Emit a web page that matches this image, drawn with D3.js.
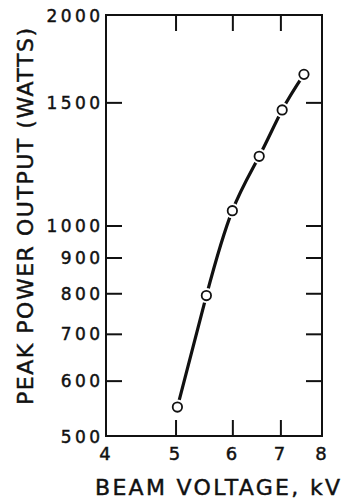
<!DOCTYPE html>
<html>
<head>
<meta charset="utf-8">
<script src="https://cdn.jsdelivr.net/npm/d3@7"></script>
<style>
  html, body { margin: 0; padding: 0; background: #fff; }
  svg { display: block; }
  text { font-family: "DejaVu Sans", sans-serif; fill: #111; stroke: #111; stroke-width: 0.45px; }
</style>
</head>
<body>
<svg id="chart" width="347" height="504"></svg>
<script>
// ---- data ----
const voltage = [5.03, 5.52, 6.0, 6.54, 7.04, 7.55];      // kV
const power   = [550, 794, 1050, 1256, 1463, 1645];        // watts
const xTickValues = [4, 5, 6, 7, 8];
const xTickLabels = ["4", "5", "6", "7", "8"];
const yTickValues = [500, 600, 700, 800, 900, 1000, 1500, 2000];
const yTickLabels = ["500", "600", "700", "800", "900", "1000", "1500", "2000"];
const xTitle = "BEAM VOLTAGE, kV";
const yTitle = "PEAK POWER OUTPUT (WATTS)";

// ---- layout ----
const L = 106, R = 322, T = 15, B = 436;
const svg = d3.select("#chart");
const x = d3.scaleLog().domain([4, 8]).range([L, R]);
const y = d3.scaleLog().domain([500, 2000]).range([B, T]);
const tickLen = 16;
const ink = "#111";

const innerX = xTickValues.filter(v => v > 4 && v < 8);
const innerY = yTickValues.filter(v => v > 500 && v < 2000);

const axB = d3.axisBottom(x).tickValues(innerX).tickSize(-tickLen).tickFormat("");
const axT = d3.axisTop(x).tickValues(innerX).tickSize(-tickLen).tickFormat("");
const axL = d3.axisLeft(y).tickValues(innerY).tickSize(-tickLen).tickFormat("");
const axR = d3.axisRight(y).tickValues(innerY).tickSize(-tickLen).tickFormat("");

function styleAxis(g) {
  g.select(".domain").remove();
  g.selectAll(".tick line").attr("stroke", ink).attr("stroke-width", 2);
}
svg.append("g").attr("transform", `translate(0,${B})`).call(axB).call(styleAxis);
svg.append("g").attr("transform", `translate(0,${T})`).call(axT).call(styleAxis);
svg.append("g").attr("transform", `translate(${L},0)`).call(axL).call(styleAxis);
svg.append("g").attr("transform", `translate(${R},0)`).call(axR).call(styleAxis);

svg.append("rect")
  .attr("x", L).attr("y", T).attr("width", R - L).attr("height", B - T)
  .attr("fill", "none").attr("stroke", ink).attr("stroke-width", 2);

const ls = 3.4;
svg.append("g").selectAll("text").data(xTickValues).join("text")
  .attr("x", (d) => x(d) - 1)
  .attr("y", 460)
  .attr("text-anchor", "middle")
  .attr("font-size", 18)
  .text((d, i) => xTickLabels[i]);

svg.append("g").selectAll("text").data(yTickValues).join("text")
  .attr("x", 100 + ls)
  .attr("y", d => y(d) + 6.5)
  .attr("text-anchor", "end")
  .attr("font-size", 17)
  .attr("letter-spacing", ls)
  .text((d, i) => yTickLabels[i]);

svg.append("text")
  .attr("x", 95).attr("y", 495)
  .attr("font-size", 22)
  .attr("textLength", 245).attr("lengthAdjust", "spacing")
  .text(xTitle);

svg.append("text")
  .attr("transform", "translate(33,405) rotate(-90)")
  .attr("font-size", 22)
  .attr("textLength", 377).attr("lengthAdjust", "spacing")
  .text(yTitle);

const pts = voltage.map((v, i) => [x(v), y(power[i])]);
const line = d3.line().curve(d3.curveNatural);
svg.append("path")
  .attr("d", line(pts))
  .attr("fill", "none").attr("stroke", ink).attr("stroke-width", 3.2)
  .attr("stroke-linecap", "butt");

svg.append("g").selectAll("circle").data(pts).join("circle")
  .attr("cx", d => d[0]).attr("cy", d => d[1]).attr("r", 7.5)
  .attr("fill", "#fff");
svg.append("g").selectAll("circle").data(pts).join("circle")
  .attr("cx", d => d[0]).attr("cy", d => d[1]).attr("r", 4.7)
  .attr("fill", "#fff").attr("stroke", ink).attr("stroke-width", 1.8);
</script>
</body>
</html>
